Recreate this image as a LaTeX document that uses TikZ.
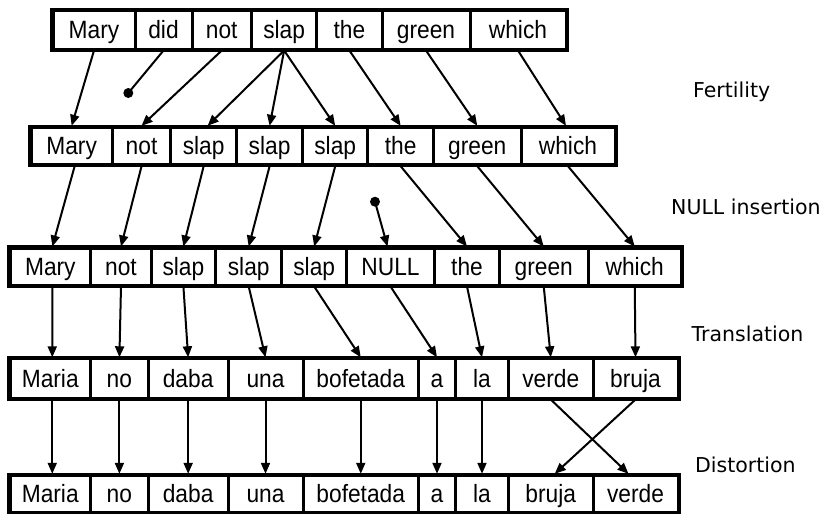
\documentclass[tikz,border=0pt]{standalone}
\usepackage{fontspec}
\usetikzlibrary{arrows.meta}
\newfontfamily\boxfont[FakeStretch=0.91]{Liberation Sans}
\newfontfamily\labelfont{DejaVu Sans}
\begin{document}
\begin{tikzpicture}[x=1pt,y=-1pt,
  cell/.style={draw, line width=3pt, inner sep=0pt,
    font=\boxfont\fontsize{25}{29}\selectfont, text height=17.9pt, text depth=0pt},
  frame/.style={draw, line width=2.5pt},
  arr/.style={line width=2pt, -{Triangle[length=11pt,width=9pt]}},
  link/.style={line width=2pt},
  lab/.style={font=\labelfont\fontsize{20.5}{24}\selectfont, anchor=base west, inner sep=0pt}]
\useasboundingbox (0,0) rectangle (825,514);

% row 1: source sentence
\foreach \n/\l/\r/\t in {r1mary/53/135/Mary, r1did/135/192/did, r1not/192/251.5/not,
    r1slap/251.5/316.8/slap, r1the/316.8/382/the, r1green/382/470/green, r1which/470/566/which}
  \node[cell, minimum width={(\r-\l)*1pt}, minimum height=38.3pt] (\n) at ({(\l+\r)/2},29.85) {\t};
\draw[frame] (r1mary.north west) rectangle (r1which.south east);

% row 2: after fertility
\foreach \n/\l/\r/\t in {r2mary/31/112.3/Mary, r2not/112.3/170.8/not, r2slapa/170.8/236.5/slap,
    r2slapb/236.5/302.7/slap, r2slapc/302.7/367.7/slap, r2the/367.7/433.6/the,
    r2green/433.6/521/green, r2which/521/615/which}
  \node[cell, minimum width={(\r-\l)*1pt}, minimum height=37.4pt] (\n) at ({(\l+\r)/2},146) {\t};
\draw[frame] (r2mary.north west) rectangle (r2which.south east);

% row 3: after NULL insertion
\foreach \n/\l/\r/\t in {r3mary/10/90.7/Mary, r3not/90.7/151.3/not, r3slapa/151.3/215.5/slap,
    r3slapb/215.5/281.9/slap, r3slapc/281.9/346.5/slap, r3null/346.5/434.5/NULL,
    r3the/434.5/499.5/the, r3green/499.5/588/green, r3which/588/681.5/which}
  \node[cell, minimum width={(\r-\l)*1pt}, minimum height=37pt] (\n) at ({(\l+\r)/2},266.5) {\t};
\draw[frame] (r3mary.north west) rectangle (r3which.south east);

% row 4: after translation
\foreach \n/\l/\r/\t in {r4maria/10/90.5/Maria, r4no/90.5/148.3/no, r4daba/148.3/228/daba,
    r4una/228/303/una, r4bofetada/303/418.5/bofetada, r4a/418.5/455.5/a,
    r4la/455.5/508.5/la, r4verde/508.5/593/verde, r4bruja/593/678/bruja}
  \node[cell, minimum width={(\r-\l)*1pt}, minimum height=39.2pt] (\n) at ({(\l+\r)/2},378.4) {\t};
\draw[frame] (r4maria.north west) rectangle (r4bruja.south east);

% row 5: after distortion
\foreach \n/\l/\r/\t in {r5maria/10/90.5/Maria, r5no/90.5/148.3/no, r5daba/148.3/228/daba,
    r5una/228/303/una, r5bofetada/303/418.5/bofetada, r5a/418.5/455.5/a,
    r5la/455.5/508.5/la, r5bruja/508.5/593/bruja, r5verde/593/678/verde}
  \node[cell, minimum width={(\r-\l)*1pt}, minimum height=37.2pt] (\n) at ({(\l+\r)/2},493.9) {\t};
\draw[frame] (r5maria.north west) rectangle (r5verde.south east);

% fertility links
\coordinate (dropdid) at (128.3,93);
\fill (dropdid) circle (5pt);
\draw[link] (r1did.south) -- (dropdid);
\draw[arr] (r1mary.south) -- (r2mary.north);
\draw[arr] (r1not.south) -- (r2not.north);
\draw[arr] (r1slap.south) -- ([xshift=4pt]r2slapa.north);
\draw[arr] (r1slap.south) -- (r2slapb.north);
\draw[arr] (r1slap.south) -- (r2slapc.north);
\draw[arr] (r1the.south) -- (r2the.north);
\draw[arr] (r1green.south) -- (r2green.north);
\draw[arr] (r1which.south) -- ([xshift=-2pt]r2which.north);

% NULL insertion links
\coordinate (nullsrc) at (375,201.7);
\fill (nullsrc) circle (5pt);
\draw[arr] (nullsrc) -- ([xshift=-3pt]r3null.north);
\draw[arr] ([xshift=3pt]r2mary.south) -- ([xshift=2pt]r3mary.north);
\draw[arr] (r2not.south) -- (r3not.north);
\draw[arr] (r2slapa.south) -- (r3slapa.north);
\draw[arr] (r2slapb.south) -- (r3slapb.north);
\draw[arr] (r2slapc.south) -- (r3slapc.north);
\draw[arr] (r2the.south) -- (r3the.north);
\draw[arr] (r2green.south) -- (r3green.north);
\draw[arr] (r2which.south) -- (r3which.north);

% translation links
\draw[arr] ([xshift=2pt]r3mary.south) -- ([xshift=2pt]r4maria.north);
\draw[arr] (r3not.south) -- (r4no.north);
\draw[arr] (r3slapa.south) -- (r4daba.north);
\draw[arr] (r3slapb.south) -- (r4una.north);
\draw[arr] (r3slapc.south) -- (r4bofetada.north);
\draw[arr] (r3null.south) -- (r4a.north);
\draw[arr] (r3the.south) -- (r4la.north);
\draw[arr] (r3green.south) -- (r4verde.north);
\draw[arr] (r3which.south) -- (r4bruja.north);

% distortion links
\draw[arr] ([xshift=2pt]r4maria.south) -- ([xshift=2pt]r5maria.north);
\draw[arr] (r4no.south) -- (r5no.north);
\draw[arr] (r4daba.south) -- (r5daba.north);
\draw[arr] (r4una.south) -- (r5una.north);
\draw[arr] (r4bofetada.south) -- (r5bofetada.north);
\draw[arr] (r4a.south) -- (r5a.north);
\draw[arr] (r4la.south) -- (r5la.north);
\draw[arr] (r4verde.south) -- ([xshift=-7pt]r5verde.north);
\draw[arr] (r4bruja.south) -- ([xshift=4pt]r5bruja.north);

% stage labels
\node[lab] (lfert) at (693,97) {Fertility};
\node[lab] (lnull) at (671,214.6) {NULL insertion};
\node[lab] (ltrans) at (691.5,341.5) {Translation};
\node[lab] (ldist) at (695,472.6) {Distortion};
\end{tikzpicture}
\end{document}
